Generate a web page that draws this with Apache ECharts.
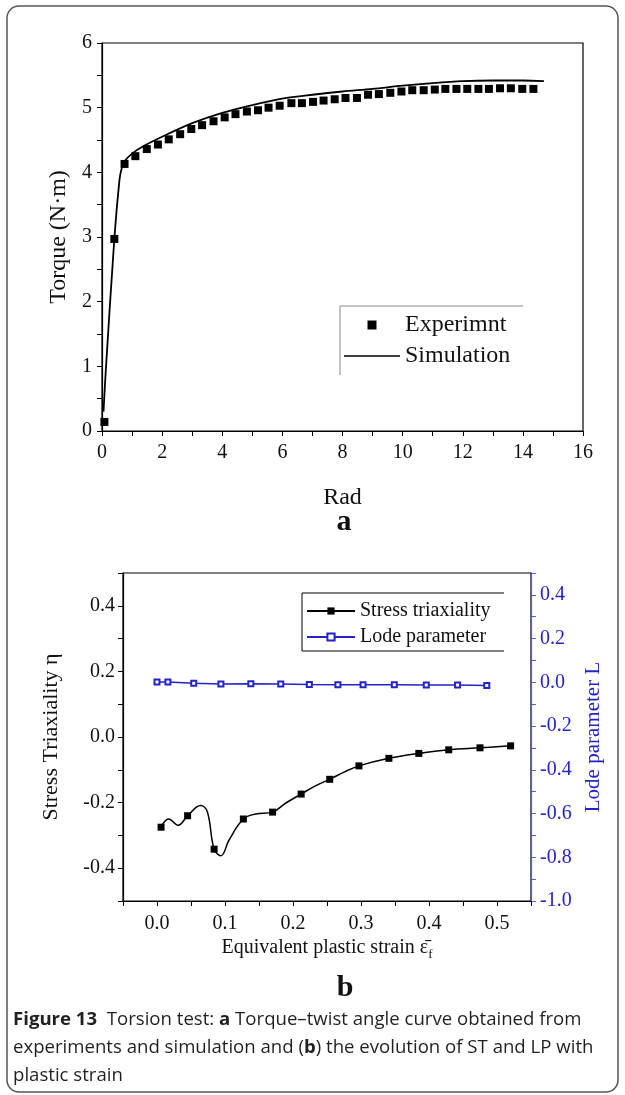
<!DOCTYPE html>
<html>
<head>
<meta charset="utf-8">
<script src="https://cdn.jsdelivr.net/npm/echarts@6/dist/echarts.min.js"></script>
<style>
  html, body { margin: 0; padding: 0; background: #fff; }
  #chart { width: 625px; height: 1095px; }
</style>
</head>
<body>
<div id="chart"></div>
<script>
// (a) torque vs twist angle
const expRad = [0.08, 0.41, 0.75, 1.11, 1.49, 1.86, 2.22, 2.60, 2.97, 3.33, 3.71, 4.08, 4.44, 4.82,
  5.19, 5.54, 5.91, 6.30, 6.65, 7.02, 7.37, 7.74, 8.10, 8.48, 8.85, 9.21, 9.59, 9.96, 10.32, 10.70,
  11.07, 11.42, 11.79, 12.15, 12.52, 12.87, 13.24, 13.60, 13.98, 14.35];
const expTorque = [0.14, 2.97, 4.13, 4.25, 4.36, 4.43, 4.51, 4.59, 4.67, 4.73, 4.79, 4.85, 4.90, 4.94,
  4.96, 5.00, 5.03, 5.07, 5.07, 5.09, 5.11, 5.13, 5.15, 5.15, 5.20, 5.21, 5.23, 5.25, 5.27, 5.27,
  5.28, 5.29, 5.29, 5.29, 5.29, 5.29, 5.30, 5.30, 5.29, 5.29];
const simRad = [0.05, 0.12, 0.41, 0.58, 0.65, 0.75, 1.0, 1.4, 2.0, 3.0, 4.0, 5.0, 6.0, 7.0, 8.0, 9.0,
  10.0, 11.0, 12.0, 13.0, 14.0, 14.7];
const simTorque = [0.30, 0.89, 2.97, 3.88, 4.05, 4.17, 4.29, 4.41, 4.55, 4.76, 4.92, 5.04, 5.14, 5.20,
  5.25, 5.29, 5.34, 5.38, 5.41, 5.42, 5.42, 5.41];

// (b) stress triaxiality and lode parameter vs equivalent plastic strain
const stStrain = [0.006, 0.017, 0.031, 0.045, 0.064, 0.074, 0.084, 0.094, 0.106, 0.127, 0.145, 0.170,
  0.189, 0.212, 0.233, 0.254, 0.275, 0.297, 0.341, 0.385, 0.429, 0.475, 0.520];
const stEta = [-0.275, -0.250, -0.269, -0.240, -0.209, -0.228, -0.342, -0.362, -0.314, -0.250, -0.235,
  -0.229, -0.202, -0.174, -0.149, -0.129, -0.107, -0.088, -0.065, -0.050, -0.039, -0.033, -0.027];
const stMarker = [1, 0, 0, 1, 0, 0, 1, 0, 0, 1, 0, 1, 0, 1, 0, 1, 0, 1, 1, 1, 1, 1, 1];
const lodeStrain = [0.0, 0.016, 0.054, 0.094, 0.138, 0.182, 0.224, 0.266, 0.303, 0.349, 0.396, 0.442, 0.485];
const lodeL = [0.002, 0.001, -0.004, -0.008, -0.006, -0.008, -0.010, -0.011, -0.011, -0.011, -0.012, -0.012, -0.014];

const serif = 'Liberation Serif';
const ink = '#111';
const blue = '#2323c8';

function baseAxis(extra) {
  return Object.assign({
    type: 'value',
    nameLocation: 'middle',
    nameTextStyle: { fontFamily: serif, fontSize: 24, color: ink },
    axisLine: { show: true, onZero: false, lineStyle: { color: '#000', width: 1.2 } },
    axisTick: { show: true, inside: false, length: 5, lineStyle: { color: '#000', width: 1 } },
    splitLine: { show: false }
  }, extra);
}
const labelStyle = { fontFamily: serif, fontSize: 20, color: ink };

const chart = echarts.init(document.getElementById('chart'));
chart.setOption({
  animation: false,
  grid: [
    { left: 102, top: 43, width: 481, height: 388, show: true, borderColor: '#000', borderWidth: 1.2 },
    { left: 123, top: 573, width: 408, height: 328, show: true, borderColor: '#000', borderWidth: 1.2 }
  ],
  xAxis: [
    baseAxis({
      gridIndex: 0, min: 0, max: 16, interval: 1,
      name: 'Rad', nameGap: 55,
      axisLabel: Object.assign({ margin: 12, formatter: v => (v % 2 === 0 ? String(v) : '') }, labelStyle)
    }),
    baseAxis({
      gridIndex: 1, min: -0.05, max: 0.55, interval: 0.05,
      name: 'Equivalent plastic strain {eps|\u03B5\u0304}{sub|f}', nameGap: 25,
      nameTextStyle: {
        fontFamily: serif, fontSize: 20, color: ink, lineHeight: 26,
        rich: {
          eps: { fontFamily: serif, fontSize: 20, color: ink },
          sub: { fontFamily: serif, fontSize: 13, color: ink, verticalAlign: 'bottom' }
        }
      },
      axisLabel: Object.assign({
        margin: 13,
        formatter: v => {
          const k = Math.round(v * 100);
          return k >= 0 && k % 10 === 0 ? (k / 100).toFixed(1) : '';
        }
      }, labelStyle)
    })
  ],
  yAxis: [
    baseAxis({
      gridIndex: 0, min: 0, max: 6, interval: 0.5,
      name: 'Torque (N\u00B7m)', nameRotate: 90, nameGap: 30,
      axisLabel: Object.assign({ margin: 10, formatter: v => (Number.isInteger(v) ? String(v) : '') }, labelStyle)
    }),
    baseAxis({
      gridIndex: 1, min: -0.5, max: 0.5, interval: 0.1,
      name: 'Stress Triaxiality \u03B7', nameRotate: 90, nameGap: 61,
      nameTextStyle: { fontFamily: serif, fontSize: 22, color: ink },
      axisLabel: Object.assign({
        margin: 8,
        formatter: v => {
          const k = Math.round(v * 10);
          return k % 2 === 0 ? (k / 10).toFixed(1) : '';
        }
      }, labelStyle)
    }),
    baseAxis({
      gridIndex: 1, position: 'right', min: -1.0, max: 0.5, interval: 0.1,
      name: 'Lode parameter L', nameRotate: 90, nameGap: 47,
      nameTextStyle: { fontFamily: serif, fontSize: 21, color: blue },
      axisLine: { show: true, onZero: false, lineStyle: { color: '#5a5ad6', width: 1.2 } },
      axisTick: { show: true, inside: false, length: 5, lineStyle: { color: '#5a5ad6', width: 1 } },
      axisLabel: {
        margin: 9, fontFamily: serif, fontSize: 20, color: blue,
        formatter: v => {
          const k = Math.round(v * 10);
          return k % 2 === 0 && k < 5 ? (k / 10).toFixed(1) : '';
        }
      }
    })
  ],
  legend: [
    {
      orient: 'vertical', left: 339, top: 308,
      itemWidth: 56, itemHeight: 9, itemGap: 7,
      textStyle: { fontFamily: serif, fontSize: 24, color: ink },
      data: [
        { name: 'Experimnt', icon: 'path://M0,0h10v10h-10z' },
        { name: 'Simulation', icon: 'path://M0,0h60v1.6h-60z' }
      ]
    },
    {
      orient: 'vertical', left: 301, top: 596,
      itemWidth: 48, itemHeight: 9, itemGap: 6,
      textStyle: { fontFamily: serif, fontSize: 20, color: ink },
      data: ['Stress triaxiality', 'Lode parameter']
    }
  ],
  series: [
    {
      name: 'Experimnt', type: 'scatter', xAxisIndex: 0, yAxisIndex: 0,
      data: expRad.map((r, i) => [r, expTorque[i]]),
      symbol: 'rect', symbolSize: 8, itemStyle: { color: '#000', opacity: 1 }, z: 3
    },
    {
      name: 'Simulation', type: 'line', xAxisIndex: 0, yAxisIndex: 0,
      data: simRad.map((r, i) => [r, simTorque[i]]),
      symbol: 'none', smooth: 0.3,
      lineStyle: { color: '#000', width: 1.8 }, itemStyle: { color: '#000' }
    },
    {
      name: 'Stress triaxiality', type: 'line', xAxisIndex: 1, yAxisIndex: 1,
      data: stStrain.map((s, i) => ({ value: [s, stEta[i]], symbol: stMarker[i] ? 'rect' : 'none' })),
      symbol: 'rect', symbolSize: 7, showAllSymbol: true, smooth: 0.4,
      lineStyle: { color: '#000', width: 1.5 }, itemStyle: { color: '#000' }
    },
    {
      name: 'Lode parameter', type: 'line', xAxisIndex: 1, yAxisIndex: 2,
      data: lodeStrain.map((s, i) => [s, lodeL[i]]),
      symbol: 'emptyRect', symbolSize: 5, showAllSymbol: true,
      lineStyle: { color: blue, width: 1.5 }, itemStyle: { color: blue, borderWidth: 1 }
    }
  ],
  graphic: [
    {
      type: 'rect', shape: { x: 7, y: 6, width: 611, height: 1086, r: 12 },
      style: { fill: 'none', stroke: '#555', lineWidth: 1.5 }, silent: true
    },
    {
      type: 'polyline', shape: { points: [[340, 375], [340, 306], [523, 306]] },
      style: { fill: 'none', stroke: '#888', lineWidth: 1 }, silent: true
    },
    {
      type: 'polyline', shape: { points: [[504, 593], [302, 593], [302, 651], [504, 651]] },
      style: { fill: 'none', stroke: '#000', lineWidth: 1 }, silent: true
    },
    {
      type: 'text', x: 344, y: 522,
      style: { text: 'a', font: 'bold 30px "Liberation Serif"', fill: ink, align: 'center', verticalAlign: 'middle' }
    },
    {
      type: 'text', x: 345, y: 988,
      style: { text: 'b', font: 'bold 30px "Liberation Serif"', fill: ink, align: 'center', verticalAlign: 'middle' }
    },
    {
      type: 'text', x: 13, y: 1006,
      style: {
        text: '{b|Figure 13}  Torsion test: {b|a} Torque\u2013twist angle curve obtained from\n' +
          'experiments and simulation and ({b|b}) the evolution of ST and LP with\n' +
          'plastic strain',
        font: '18.6px "Open Sans"', fill: '#231f20', lineHeight: 28,
        rich: {
          b: { font: 'bold 18.6px "Open Sans"', fill: '#231f20', lineHeight: 28 }
        }
      }
    }
  ]
});
</script>
</body>
</html>
